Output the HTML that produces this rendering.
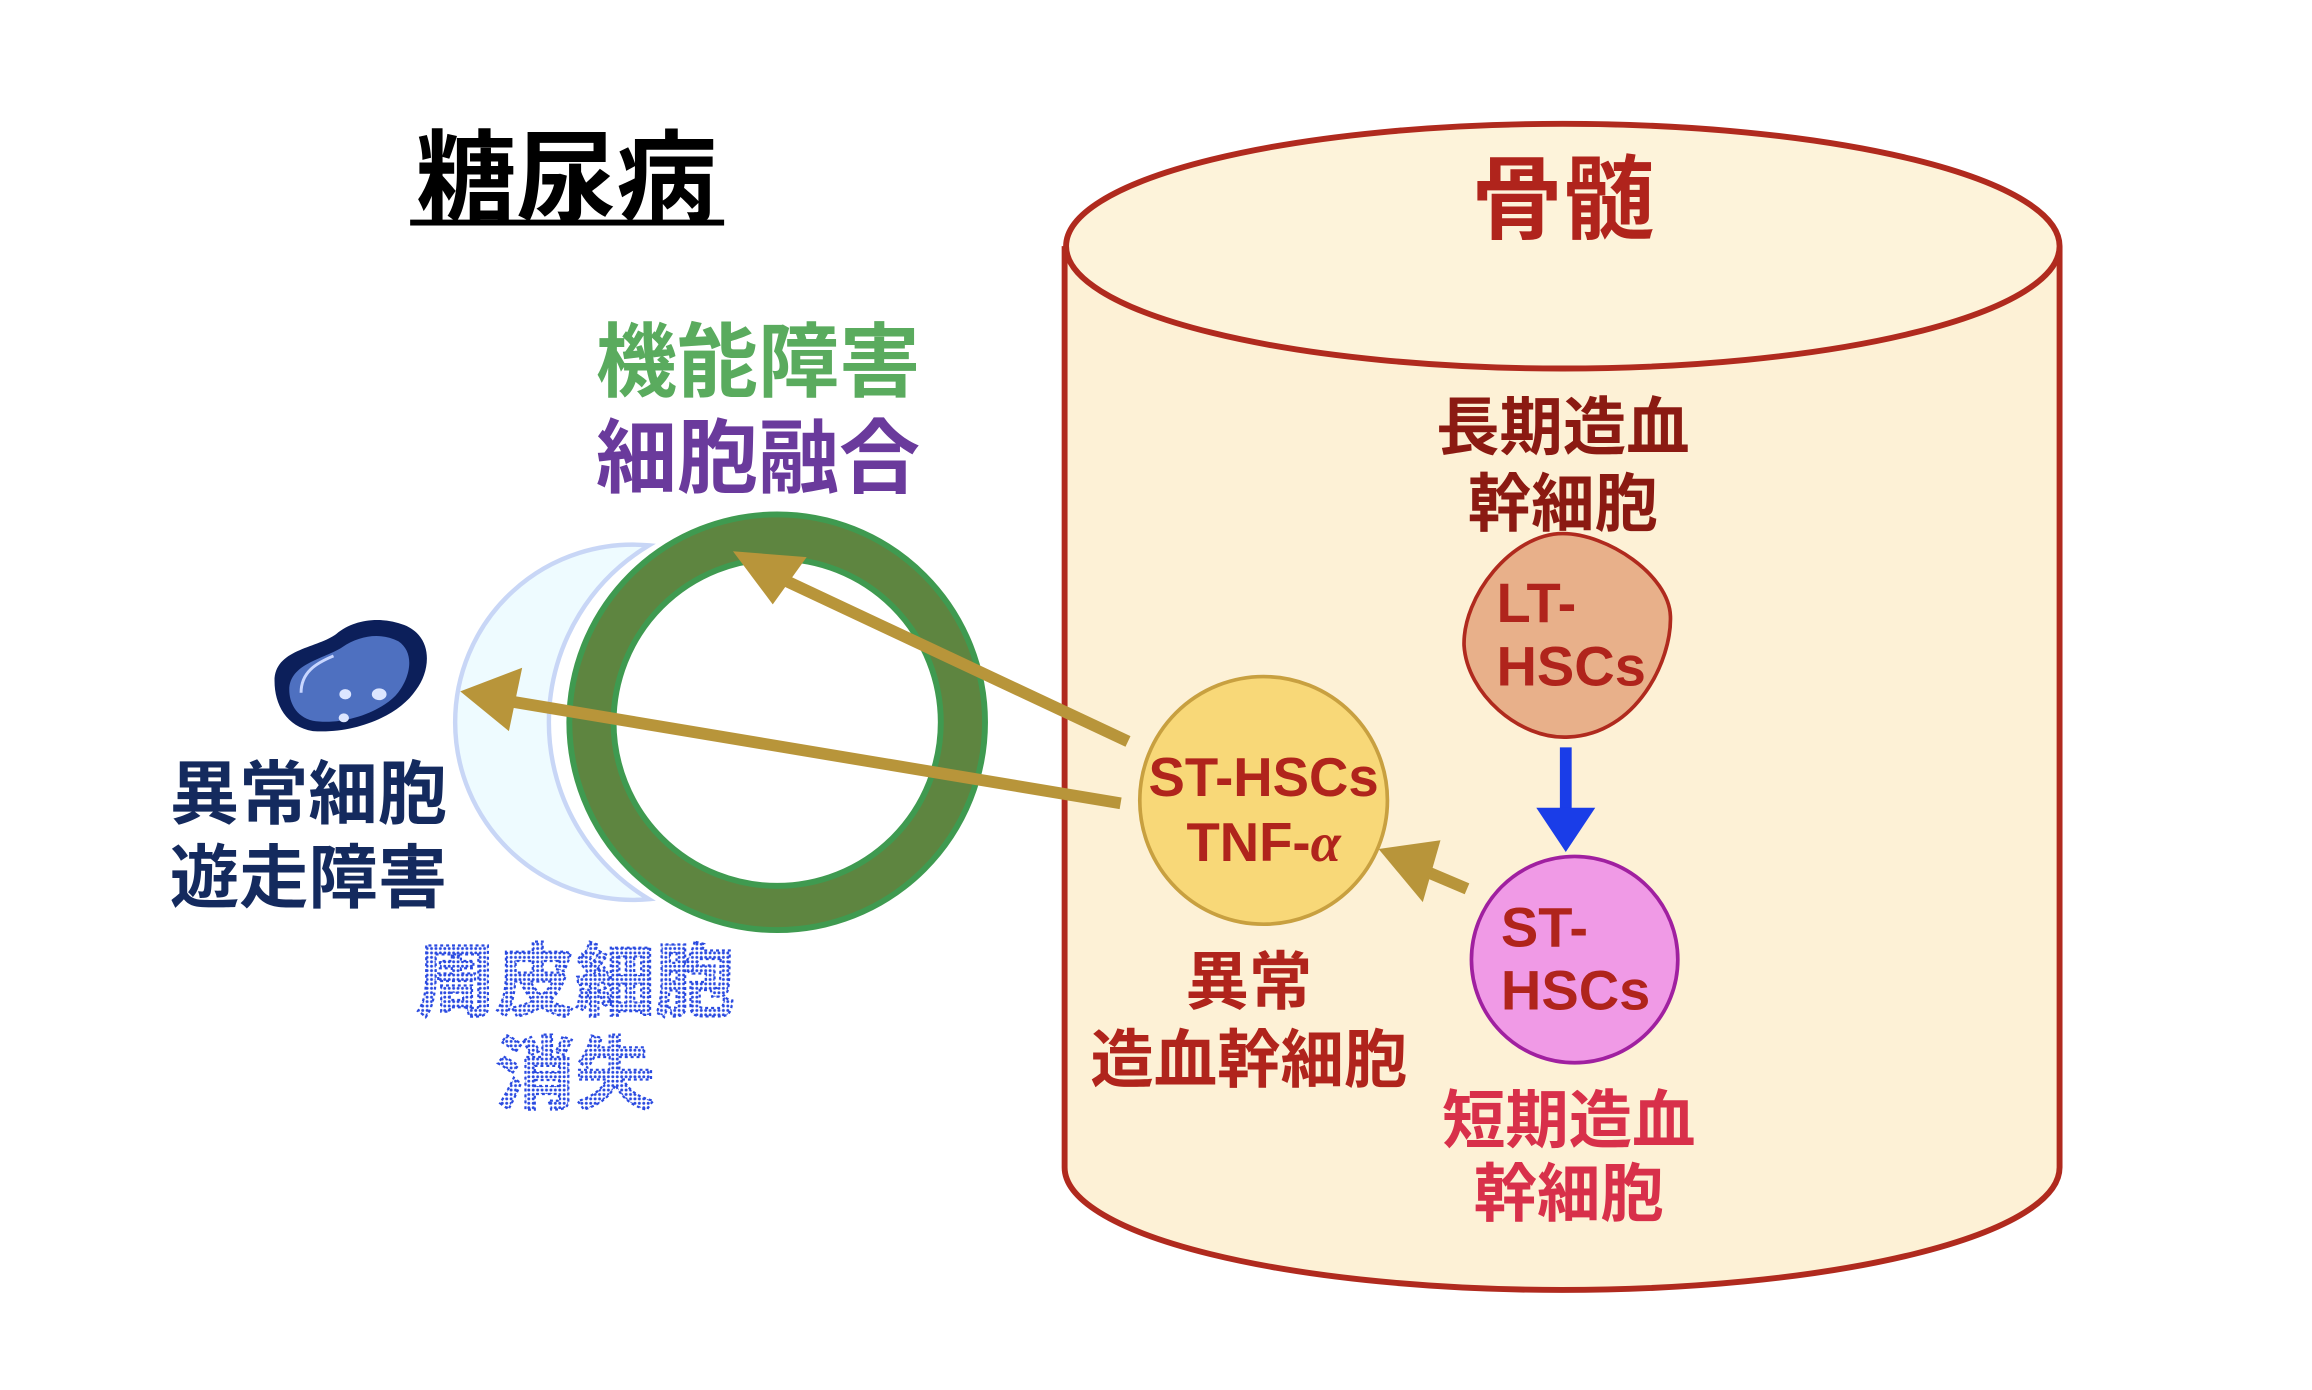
<!DOCTYPE html>
<html><head><meta charset="utf-8"><style>
html,body{margin:0;padding:0;background:#fff;}
svg{display:block;}
text{font-family:"Liberation Sans","Noto Sans CJK JP",sans-serif;font-weight:bold;}
</style></head><body>
<svg width="2312" height="1390" viewBox="0 0 1568 943" xmlns="http://www.w3.org/2000/svg">
<defs>
<pattern id="dots" width="3" height="3" patternUnits="userSpaceOnUse">
<rect width="3" height="3" fill="#ffffff"/>
<circle cx="1.5" cy="1.5" r="1" fill="#2a4ae0"/>
</pattern>
</defs>
<!-- title -->
<text x="384" y="145" font-size="68" text-anchor="middle" fill="#000">糖尿病</text>
<rect x="278" y="149" width="213" height="4" fill="#000"/>
<text x="514" y="265" font-size="55" text-anchor="middle" fill="#5aab5e">機能障害</text>
<text x="514" y="330" font-size="55" text-anchor="middle" fill="#6a3a9c">細胞融合</text>
<!-- pericyte crescent -->
<path d="M440,370 A120.5,120.5 0 1 0 440,610 A140,140 0 0 1 440,370 Z" fill="#eefbff" stroke="#c8d6f6" stroke-width="3"/>
<!-- green ring -->
<circle cx="527" cy="490" r="126" fill="none" stroke="#3f9a50" stroke-width="34"/>
<circle cx="527" cy="490" r="126" fill="none" stroke="#5e8540" stroke-width="26"/>
<!-- blue cell -->
<path d="M186,462 C186,440 215,440 228,430 C240,420 258,418 274,424 C294,432 292,455 282,468 C270,486 240,498 212,496 C194,493 186,478 186,462 Z" fill="#0c1f5a"/>
<path d="M196,468 C196,450 220,447 232,439 C244,431 258,429 270,435 C282,443 278,461 268,472 C255,485 230,492 212,489 C200,486 196,476 196,468 Z" fill="#4e70c0"/>
<path d="M204,470 C204,456 214,450 226,445" fill="none" stroke="#c8d6ff" stroke-width="2"/>
<ellipse cx="234" cy="471" rx="4" ry="3.5" fill="#dde6ff"/>
<ellipse cx="257" cy="471" rx="5" ry="4" fill="#dde6ff"/>
<ellipse cx="233" cy="487" rx="3.5" ry="3" fill="#dde6ff"/>
<text x="209" y="555" font-size="47" text-anchor="middle" fill="#142a5e">異常細胞</text>
<text x="209" y="612" font-size="47" text-anchor="middle" fill="#142a5e">遊走障害</text>
<text x="390" y="685" font-size="54" text-anchor="middle" fill="url(#dots)" stroke="#2a4ae0" stroke-width="1.5" stroke-dasharray="2 2">周皮細胞</text>
<text x="390" y="748" font-size="54" text-anchor="middle" fill="url(#dots)" stroke="#2a4ae0" stroke-width="1.5" stroke-dasharray="2 2">消失</text>
<!-- cylinder -->
<path d="M722,167 L722,792 A337,83 0 0 0 1397,792 L1397,167" fill="#fdf1d6" stroke="#b02a1e" stroke-width="4"/>
<ellipse cx="1060" cy="167" rx="337" ry="83" fill="#fdf3da" stroke="#b02a1e" stroke-width="4"/>
<text x="1060" y="157" font-size="62" text-anchor="middle" fill="#b0241c">骨髄</text>
<text x="1060" y="305" font-size="43" text-anchor="middle" fill="#8b1a12">長期造血</text>
<text x="1060" y="357" font-size="43" text-anchor="middle" fill="#8b1a12">幹細胞</text>
<!-- LT blob -->
<path d="M1060,362 C1090,362 1132,390 1133,418 C1134,448 1110,498 1064,500 C1030,502 995,470 993,438 C992,405 1025,362 1060,362 Z" fill="#e8b08a" stroke="#b02a1e" stroke-width="2.5"/>
<text x="1015" y="422" font-size="38" fill="#b0241c">LT-</text>
<text x="1015" y="465" font-size="38" fill="#b0241c">HSCs</text>
<!-- blue arrow -->
<line x1="1062" y1="507" x2="1062" y2="552" stroke="#1a3de8" stroke-width="8"/>
<polygon points="1042,548 1082,548 1062,578" fill="#1a3de8"/>
<!-- ST pink -->
<circle cx="1068" cy="651" r="70" fill="#f09ae6" stroke="#a020a0" stroke-width="2.5"/>
<text x="1018" y="642" font-size="38" fill="#b0241c">ST-</text>
<text x="1018" y="685" font-size="38" fill="#b0241c">HSCs</text>
<text x="1064" y="775" font-size="43" text-anchor="middle" fill="#d8304a">短期造血</text>
<text x="1064" y="825" font-size="43" text-anchor="middle" fill="#d8304a">幹細胞</text>
<!-- yellow -->
<circle cx="857" cy="543" r="84" fill="#f8d878" stroke="#c8a040" stroke-width="2.5"/>
<text x="857" y="540" font-size="37" text-anchor="middle" fill="#b0241c">ST-HSCs</text>
<text x="857" y="584" font-size="37" text-anchor="middle" fill="#b0241c">TNF-<tspan font-style="italic" font-family="Liberation Serif">α</tspan></text>
<text x="847" y="681" font-size="43" text-anchor="middle" fill="#b0241c">異常</text>
<text x="847" y="734" font-size="43" text-anchor="middle" fill="#b0241c">造血幹細胞</text>
<!-- gold arrows -->
<g fill="#b8953a" stroke="none">
<line x1="765" y1="503" x2="520" y2="388" stroke="#b8953a" stroke-width="8"/>
<polygon points="497,374 547,378 524,410"/>
<line x1="760" y1="545" x2="335" y2="474" stroke="#b8953a" stroke-width="8"/>
<polygon points="312,469 354,453 345,496"/>
<line x1="995" y1="603" x2="955" y2="586" stroke="#b8953a" stroke-width="8"/>
<polygon points="935,576 977,570 965,612"/>
</g>
</svg>
</body></html>
